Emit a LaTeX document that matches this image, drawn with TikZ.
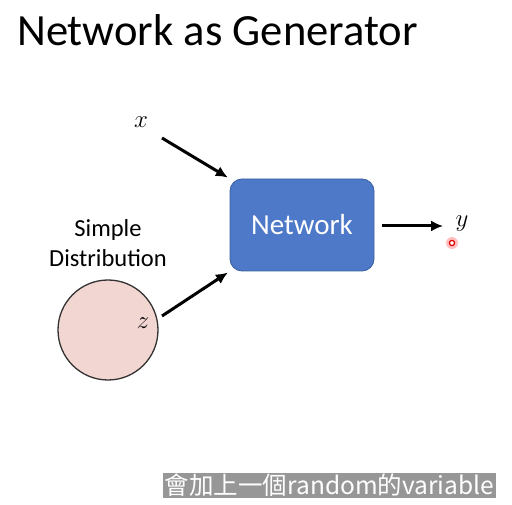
\documentclass[tikz,border=0pt]{standalone}
\usepackage{fontspec}
\setmainfont{Carlito}
\newfontfamily\cjk{Noto Sans CJK TC}
\usetikzlibrary{arrows.meta,positioning}

\definecolor{netblue}{HTML}{4E78C8}
\definecolor{netedge}{HTML}{3A5F9F}
\definecolor{distpink}{HTML}{F2D6D2}
\definecolor{subgrey}{HTML}{979797}

\tikzset{
  netbox/.style={draw=netedge, fill=netblue, rounded corners=12pt, line width=0.8pt,
    minimum width=144pt, minimum height=92pt, text=white, font=\fontsize{29}{29}\selectfont},
  flow/.style={-{Latex[length=12pt,width=11pt]}, line width=3pt},
  varlabel/.style={font=\fontsize{30}{30}\selectfont}
}

\begin{document}
\begin{tikzpicture}[x=1pt, y=-1pt]
\useasboundingbox (0,0) rectangle (512,505);

\node (title) [anchor=west, inner sep=0pt, font=\fontsize{44.6}{44.6}\selectfont] at (17,30) {Network as Generator};

\node (net) [netbox] at (302,225) {Network};

\node (dist) [circle, draw=black!80, fill=distpink, line width=1.3pt, minimum size=100pt] at (108,330) {};
\node (zin) [varlabel] at (143,323) {$z$};
\node (label) [align=center, font=\fontsize{24.5}{30}\selectfont] at (108,243) {Simple\\Distribution};

\node (xin) [varlabel] at (141,122) {$x$};
\node (yout) [varlabel] at (462,224) {$y$};

\coordinate (xs) at (162,138);
\coordinate (zs) at (162,316);
\coordinate (ns) at (382,226);
\draw[flow, shorten >=2pt] (xs) -- (net.north west);
\draw[flow, shorten >=2pt] (zs) -- (net.south west);
\draw[flow, shorten >=9pt] (ns) -- (yout.west |- ns);

% laser pointer dot
\fill[red!25] (452,243) circle (6pt);
\draw[red!85!black, line width=1.2pt, fill=white] (452,243) circle (2.6pt);

\node (sub) [fill=subgrey, text=white, inner sep=1.5pt, font=\cjk\fontsize{24.5}{24.5}\selectfont] at (329.5,485.5) {會加上一個random的variable};
\end{tikzpicture}
\end{document}
